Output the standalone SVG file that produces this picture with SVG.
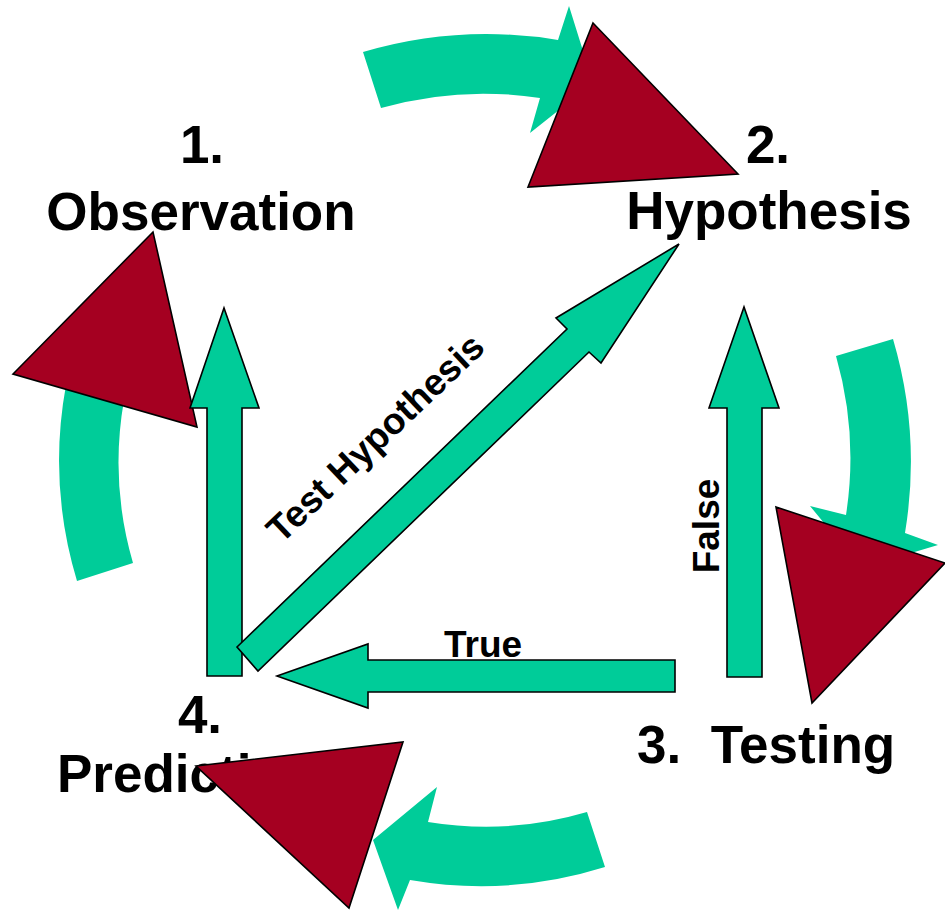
<svg xmlns="http://www.w3.org/2000/svg" width="945" height="911" viewBox="0 0 945 911">
<style>
.arc{fill:#00CC99;stroke:none}
.blk{fill:#00CC99;stroke:#000;stroke-width:1.6;stroke-linejoin:miter}
.tri{fill:#A50021;stroke:#000;stroke-width:1.6;stroke-linejoin:miter}
.big{font-family:"Liberation Sans",Arial,sans-serif;font-weight:bold;font-size:53px;fill:#000}
.lbl{font-family:"Liberation Sans",Arial,sans-serif;font-weight:bold;font-size:37px;fill:#000}
</style>
<rect width="945" height="911" fill="#fff"/>
<g id="node-observation">
<text class="big" x="202" y="163" text-anchor="middle">1.</text>
<text class="big" x="201" y="230" text-anchor="middle">Observation</text>
</g>
<g id="node-hypothesis">
<text class="big" x="768" y="163" text-anchor="middle">2.</text>
<text class="big" x="769" y="229" text-anchor="middle">Hypothesis</text>
</g>
<g id="node-testing">
<text class="big" x="637" y="763" xml:space="preserve">3.  Testing</text>
</g>
<g id="node-prediction">
<text class="big" x="200" y="733" text-anchor="middle">4.</text>
<text class="big" x="57" y="792">Prediction</text>
</g>
<g id="connectors">
<path class="arc" d="M363,52 A435,435 0 0 1 558,40 L569,6 L593,83 L530,133 L540,98 A375,375 0 0 0 381,108 Z"/>
<path class="arc" d="M893,339 A435,435 0 0 1 905,533 L938,545 L861,568 L810,506 L846,515 A371,371 0 0 0 836,356 Z"/>
<path class="arc" d="M605,867 A416,416 0 0 1 410,880 L398,910 L373,840 L437,787 L428,822 A357,357 0 0 0 587,812 Z"/>
<path class="arc" d="M77,581 A418,418 0 0 1 66,385 L40,375 L100,310 L150,395 L124,400 A360,360 0 0 0 133,563 Z"/>
<polygon class="tri" points="593,23 738,174 528,187"/>
<polygon class="tri" points="153,232 13,374 197,427"/>
<polygon class="tri" points="776,507 945,563 812,703"/>
<polygon class="tri" points="196,766 403,742 349,908"/>
<polygon class="blk" points="207,676 207,408 190,408 224,308 259,408 242,408 242,676"/>
<polygon class="blk" points="237,647 567,329 556,318 679,244 601,363 589,352 258,671"/>
<polygon class="blk" points="675,660 368,660 368,644 277,676 368,708 368,692 675,692"/>
<polygon class="blk" points="727,677 727,408 709,408 744,307 779,408 762,408 762,677"/>
<text class="lbl" x="483" y="657" text-anchor="middle">True</text>
<text class="lbl" transform="translate(719,526) rotate(-90)" text-anchor="middle">False</text>
<text class="lbl" transform="translate(384,447) rotate(-43.5)" text-anchor="middle">Test Hypothesis</text>
</g>
</svg>
